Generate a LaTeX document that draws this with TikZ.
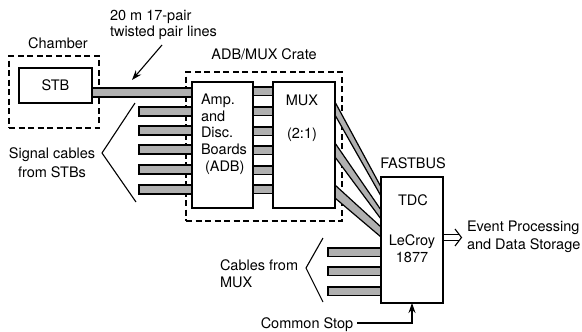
\documentclass[tikz,border=0pt]{standalone}
\usepackage{fontspec}
\setmainfont{TeX Gyre Heros}
\usetikzlibrary{arrows.meta}
\begin{document}
\begin{tikzpicture}[x=1pt,y=-1pt,
  every node/.style={inner sep=0pt, outer sep=0pt, font=\fontsize{14.5}{17.5}\selectfont},
  box/.style={draw, line width=1.1pt, anchor=north west},
  dbox/.style={draw, line width=1.1pt, dash pattern=on 6pt off 3.5pt, anchor=north west},
  cable/.style={draw, line width=1.2pt, fill=gray!62},
  bracket/.style={draw, line width=1.1pt},
  arr/.style={draw, line width=1.1pt, -{Stealth[length=10pt,width=7pt]}},
  dblarr/.style={draw, line width=1.1pt}
]
\useasboundingbox (0,0) rectangle (582,332);

% boxes
\node[dbox, minimum width=90pt, minimum height=72pt] (chamber) at (9,56) {};
\node[box, minimum width=73pt, minimum height=35pt] (stb) at (19,68) {};
\node at (stb.center) {STB};
\node[dbox, minimum width=156pt, minimum height=149pt] (crate) at (186,72) {};
\node[box, fill=white, minimum width=61pt, minimum height=126pt] (adb) at (192,82) {};
\node[box, fill=white, minimum width=62pt, minimum height=126pt] (mux) at (273,82) {};
\node[box, fill=white, minimum width=62pt, minimum height=126pt] (tdc) at (381,177) {};

% labels
\node (chlbl) at (58,43) {Chamber};
\node[align=left, anchor=west, font=\fontsize{14.5}{16}\selectfont] (twist) at (110,25) {20 m 17-pair\\twisted pair lines};
\node (cratelbl) at (264,54) {ADB/MUX Crate};
\node[align=left, anchor=west, font=\fontsize{14.5}{16.7}\selectfont] (adbtxt) at (201,134) {Amp.\\and\\Disc.\\Boards\\\hspace*{4pt}(ADB)};
\node (muxtxt) at (302,100) {MUX};
\node (muxratio) at (302,135) {(2:1)};
\node (fastbus) at (413,163) {FASTBUS};
\node (tdctxt) at (413,200) {TDC};
\node[align=center, font=\fontsize{14.5}{17}\selectfont] (lecroy) at (412,248.5) {LeCroy\\1877};
\node[align=left, anchor=west, font=\fontsize{14.5}{18}\selectfont] (event) at (467,237) {Event Processing\\and Data Storage};
\node[align=center, font=\fontsize{14.5}{19}\selectfont] (signal) at (52,162.5) {Signal cables\\from STBs};
\node[align=left, anchor=west, font=\fontsize{14.5}{17}\selectfont] (cables) at (220,273.5) {Cables from\\MUX};
\node (cstop) at (307,325) {Common Stop};

% main cable STB -> ADB
\path[cable] (stb.east |- 0,88) rectangle (adb.west |- 0,97);
% other signal cables
\foreach \y in {107,126,145,165,185}
  \path[cable] (139,\y) rectangle (adb.west |- 0,\y+9);
% ADB -> MUX cables
\foreach \y in {87,107,127,146,166,185}
  \path[cable] (adb.east |- 0,\y) rectangle (mux.west |- 0,\y+8.5);
% MUX -> TDC diagonal bands
\path[cable] (335,102) -- (381,187) -- (381,196) -- (335,115) -- cycle;
\path[cable] (335,143) -- (381,210) -- (381,219) -- (335,157) -- cycle;
\path[cable] (335,185) -- (381,227) -- (381,237) -- (335,198) -- cycle;
% redraw box borders over band ends
\draw[line width=1.1pt] (mux.north east) -- (mux.south east);
\draw[line width=1.1pt] (tdc.north west) -- (tdc.south west);
% cables from MUX into TDC
\foreach \y in {248,267,287}
  \path[cable] (328,\y) rectangle (tdc.west |- 0,\y+8.5);

% brackets
\draw[bracket] (135,103) -- (102,153) -- (136,202);
\draw[bracket] (323,238) -- (306,268) -- (323,302);

% arrows
\coordinate (twistend) at (132,80);
\draw[arr] (162,45) -- (twistend);
\draw[arr] (cstop.east) ++(4,-2) -| (tdc.south);
% double arrow to event processing
\draw[dblarr] (tdc.east |- 0,234.5) -- (459,234.5);
\draw[dblarr] (tdc.east |- 0,240.5) -- (459,240.5);
\draw[dblarr, line join=miter] (455,229) .. controls (458,233) .. (461.5,237.5) .. controls (458,242) .. (455,246);
\end{tikzpicture}
\end{document}
